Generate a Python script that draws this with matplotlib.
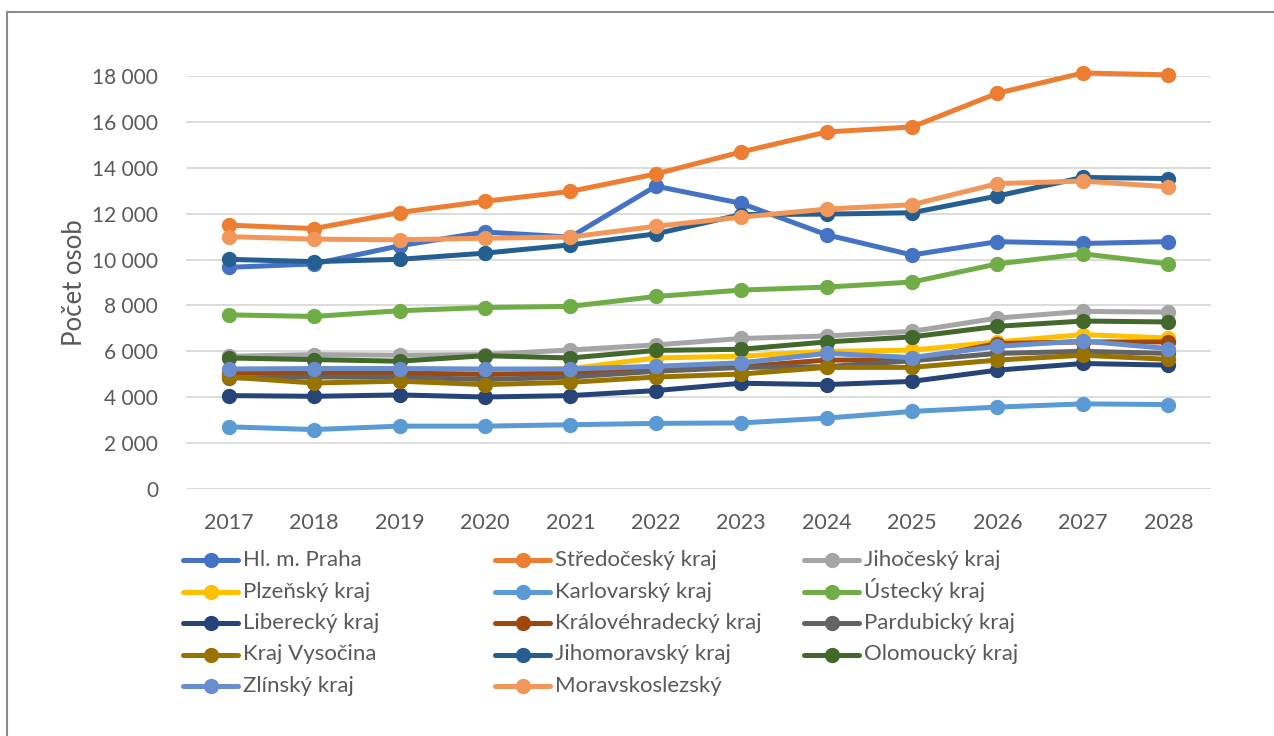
import matplotlib.pyplot as plt
from matplotlib.lines import Line2D
from matplotlib.ticker import FuncFormatter

plt.rcParams['font.family'] = ['Lato', 'DejaVu Sans']

years = [2017, 2018, 2019, 2020, 2021, 2022, 2023, 2024, 2025, 2026, 2027, 2028]

praha = [9660, 9810, 10600, 11200, 10980, 13200, 12450, 11080, 10200, 10780, 10700, 10780]
stredocesky = [11500, 11350, 12050, 12540, 12970, 13730, 14690, 15560, 15780, 17250, 18130, 18050]
jihocesky = [5780, 5860, 5830, 5860, 6060, 6280, 6560, 6670, 6870, 7450, 7740, 7710]
plzensky = [5150, 5150, 5200, 5150, 5250, 5710, 5790, 6000, 6050, 6410, 6730, 6580]
karlovarsky = [2710, 2590, 2740, 2740, 2800, 2860, 2880, 3090, 3380, 3570, 3710, 3680]
ustecky = [7590, 7520, 7770, 7910, 7960, 8390, 8670, 8800, 9020, 9810, 10250, 9810]
liberecky = [4070, 4040, 4100, 4010, 4070, 4290, 4610, 4550, 4690, 5180, 5470, 5400]
kralovehradecky = [5060, 5060, 5060, 4990, 5060, 5200, 5330, 5620, 5620, 6340, 6410, 6410]
pardubicky = [4840, 4880, 4880, 4770, 4880, 5130, 5300, 5330, 5590, 5910, 6000, 5910]
vysocina = [4880, 4620, 4700, 4550, 4650, 4880, 5010, 5300, 5300, 5620, 5830, 5650]
jihomoravsky = [10010, 9910, 10010, 10280, 10640, 11120, 11960, 11980, 12040, 12770, 13580, 13530]
olomoucky = [5710, 5640, 5570, 5810, 5710, 6040, 6090, 6410, 6630, 7090, 7320, 7280]
zlinsky = [5230, 5250, 5250, 5230, 5230, 5350, 5500, 5910, 5730, 6220, 6450, 6120]
moravskoslezsky = [11000, 10890, 10860, 10930, 10980, 11450, 11850, 12200, 12390, 13310, 13420, 13170]

names = ['Hl. m. Praha', 'Středočeský kraj', 'Jihočeský kraj', 'Plzeňský kraj',
         'Karlovarský kraj', 'Ústecký kraj', 'Liberecký kraj', 'Královéhradecký kraj',
         'Pardubický kraj', 'Kraj Vysočina', 'Jihomoravský kraj', 'Olomoucký kraj',
         'Zlínský kraj', 'Moravskoslezský']
series = [praha, stredocesky, jihocesky, plzensky, karlovarsky, ustecky, liberecky,
          kralovehradecky, pardubicky, vysocina, jihomoravsky, olomoucky, zlinsky,
          moravskoslezsky]
colors = ['#4472C4', '#ED7D31', '#A5A5A5', '#FFC000', '#5B9BD5', '#70AD47', '#264478',
          '#9E480E', '#636363', '#997300', '#255E91', '#43682B', '#698ED0', '#F1975A']

W, H = 1274, 736
fig = plt.figure(figsize=(W / 100, H / 100), dpi=100)
ax = fig.add_axes([186 / W, 1 - 489 / H, 1025 / W, 413 / H])

x = list(range(len(years)))
for name, vals, c in zip(names, series, colors):
    ax.plot(x, vals, color=c, lw=3.6, marker='o', ms=10, clip_on=False,
            solid_capstyle='round', zorder=3)

ax.set_xlim(-0.5, len(years) - 0.5)
ax.set_ylim(0, 18000)
ax.set_yticks(range(0, 18001, 2000))
ax.yaxis.set_major_formatter(FuncFormatter(lambda v, p: f'{int(v):,}'.replace(',', ' ')))
ax.set_xticks(x)
ax.set_xticklabels([str(y) for y in years])
ax.grid(axis='y', color='#D9D9D9', lw=1.3)
ax.set_axisbelow(True)
for s in ax.spines.values():
    s.set_visible(False)
ax.tick_params(length=0, colors='#595959')
ax.tick_params(axis='y', labelsize=15, pad=20)
ax.tick_params(axis='x', labelsize=15.5, pad=17)
ax.set_ylabel('Počet osob', fontsize=18.5, color='#595959', labelpad=4)

# legend, filled row by row like the original (3 columns)
col_x = [183, 495, 804]
row_y0, row_dy = 560, 31.5
for i, (name, c) in enumerate(zip(names, colors)):
    r, k = divmod(i, 3)
    x0 = col_x[k]
    yc = row_y0 + r * row_dy
    yy = 1 - yc / H
    fig.add_artist(Line2D([x0 / W, (x0 + 55) / W], [yy, yy], color=c, lw=3.6,
                          solid_capstyle='round'))
    fig.add_artist(Line2D([(x0 + 27.5) / W], [yy], color=c, marker='o', ms=10))
    fig.text((x0 + 60) / W, 1 - (yc + 6) / H, name, fontsize=16, color='#595959',
             va='baseline')

# outer chart border (left and top edges visible)
fig.add_artist(Line2D([7 / W, 7 / W], [0, 1 - 12 / H], color='#8C8C8C', lw=1.5))
fig.add_artist(Line2D([7 / W, 1], [1 - 12 / H, 1 - 12 / H], color='#8C8C8C', lw=1.5))

fig.savefig('out.png', dpi=100)
